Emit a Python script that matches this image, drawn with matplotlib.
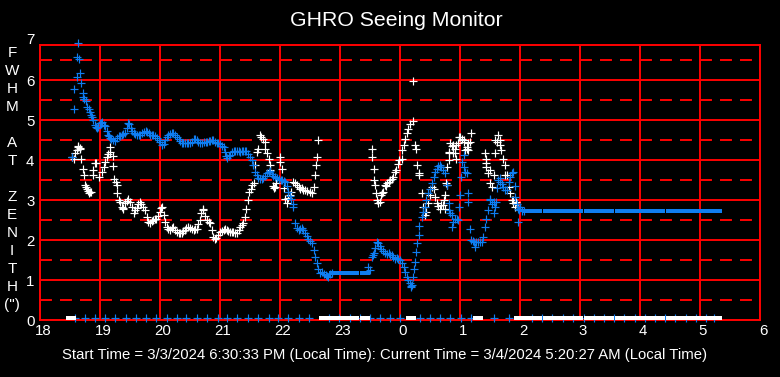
import matplotlib
matplotlib.use("Agg")
import matplotlib.pyplot as plt
from matplotlib.path import Path
from matplotlib.transforms import ScaledTranslation

# Seeing readings, hours after midnight of 3/3 (24 = 0h next day)
blue_t = [18.53, 18.56, 18.57, 18.61, 18.62, 18.64, 18.65, 18.67, 18.69, 18.71, 18.72, 18.74, 18.76, 18.79,
          18.81, 18.83, 18.85, 18.87, 18.89, 18.91, 18.93, 18.95, 18.97, 19.00, 19.02, 19.04, 19.07, 19.09,
          19.11, 19.13, 19.15, 19.17, 19.19, 19.22, 19.25, 19.28, 19.31, 19.34, 19.36, 19.39, 19.42, 19.45,
          19.47, 19.49, 19.51, 19.53, 19.56, 19.59, 19.62, 19.65, 19.67, 19.70, 19.73, 19.76, 19.78, 19.81,
          19.84, 19.87, 19.89, 19.92, 19.95, 19.98, 20.00, 20.03, 20.06, 20.08, 20.11, 20.14, 20.17, 20.20,
          20.22, 20.25, 20.28, 20.31, 20.34, 20.37, 20.39, 20.42, 20.45, 20.47, 20.50, 20.53, 20.56, 20.58,
          20.61, 20.64, 20.67, 20.70, 20.73, 20.76, 20.78, 20.81, 20.84, 20.87, 20.89, 20.92, 20.95, 20.97,
          21.00, 21.03, 21.06, 21.08, 21.10, 21.12, 21.15, 21.17, 21.20, 21.23, 21.25, 21.28, 21.31, 21.33,
          21.36, 21.39, 21.42, 21.44, 21.47, 21.50, 21.53, 21.55, 21.58, 21.61, 21.64, 21.67, 21.70, 21.72,
          21.75, 21.78, 21.81, 21.83, 21.86, 21.89, 21.92, 21.95, 21.98, 22.01, 22.03, 22.06, 22.08, 22.11,
          22.14, 22.17, 22.19, 22.21, 22.22, 22.25, 22.28, 22.31, 22.34, 22.37, 22.39, 22.42, 22.45, 22.47,
          22.50, 22.53, 22.56, 22.58, 22.61, 22.64, 22.67, 22.70, 22.73, 22.76, 22.78, 22.80, 22.83, 22.86,
          23.47, 23.50, 23.53, 23.55, 23.56, 23.58, 23.61, 23.64, 23.66, 23.69, 23.72, 23.75, 23.78, 23.81,
          23.84, 23.86, 23.89, 23.92, 23.95, 23.97, 24.00, 24.03, 24.06, 24.08, 24.11, 24.14, 24.17, 24.18,
          24.19, 24.20, 24.22, 24.24, 24.25, 24.27, 24.29, 24.31, 24.32, 24.36, 24.39, 24.42, 24.44, 24.47,
          24.50, 24.53, 24.56, 24.58, 24.61, 24.64, 24.66, 24.69, 24.72, 24.75, 24.78, 24.81, 24.81, 24.83,
          24.86, 24.86, 24.89, 24.92, 24.95, 24.97, 24.99, 25.00, 25.02, 25.04, 25.06, 25.06, 25.09, 25.11,
          25.14, 25.14, 25.16, 25.19, 25.21, 25.23, 25.25, 25.27, 25.30, 25.33, 25.36, 25.39, 25.42, 25.44,
          25.47, 25.50, 25.50, 25.53, 25.56, 25.56, 25.58, 25.60, 25.62, 25.64, 25.66, 25.67, 25.70, 25.72,
          25.75, 25.78, 25.81, 25.83, 25.86, 25.89, 25.91, 25.92, 25.95, 25.97, 25.97, 25.99, 26.00, 26.03,
          26.07]
blue_v = [4.08, 5.27, 5.77, 6.07, 6.57, 6.94, 6.54, 6.19, 5.94, 5.69, 5.57, 5.52, 5.47, 5.32,
          5.27, 5.20, 5.12, 5.08, 5.00, 4.88, 4.83, 4.81, 4.84, 4.92, 4.94, 4.96, 4.89, 4.85,
          4.72, 4.64, 4.60, 4.56, 4.54, 4.50, 4.49, 4.55, 4.60, 4.60, 4.62, 4.66, 4.68, 4.80,
          4.94, 4.90, 4.80, 4.72, 4.67, 4.65, 4.63, 4.62, 4.62, 4.68, 4.70, 4.72, 4.71, 4.68,
          4.64, 4.62, 4.62, 4.60, 4.55, 4.50, 4.46, 4.37, 4.40, 4.50, 4.58, 4.62, 4.66, 4.68,
          4.68, 4.63, 4.57, 4.54, 4.48, 4.44, 4.42, 4.42, 4.43, 4.42, 4.42, 4.46, 4.52, 4.54,
          4.50, 4.46, 4.42, 4.44, 4.46, 4.45, 4.46, 4.47, 4.49, 4.50, 4.50, 4.46, 4.43, 4.42,
          4.40, 4.36, 4.33, 4.20, 4.10, 4.06, 4.10, 4.13, 4.20, 4.24, 4.23, 4.22, 4.22, 4.20,
          4.22, 4.24, 4.23, 4.23, 4.15, 4.08, 4.00, 3.88, 3.71, 3.64, 3.56, 3.54, 3.53, 3.56,
          3.60, 3.68, 3.71, 3.72, 3.66, 3.60, 3.58, 3.55, 3.52, 3.50, 3.50, 3.47, 3.46, 3.35,
          3.21, 3.10, 3.04, 2.90, 2.83, 2.42, 2.30, 2.25, 2.27, 2.30, 2.25, 2.18, 2.10, 2.04,
          1.98, 1.92, 1.75, 1.58, 1.42, 1.28, 1.17, 1.20, 1.15, 1.12, 1.10, 1.08, 1.15, 1.17,
          1.33, 1.25, 1.58, 1.62, 1.67, 1.80, 1.96, 1.92, 1.85, 1.79, 1.72, 1.67, 1.66, 1.67,
          1.64, 1.62, 1.58, 1.54, 1.55, 1.54, 1.50, 1.42, 1.33, 1.21, 1.08, 1.00, 0.92, 0.85,
          0.83, 0.88, 1.08, 1.29, 1.46, 1.71, 1.92, 2.13, 2.35, 2.58, 2.70, 2.83, 3.00, 3.17,
          3.29, 3.42, 3.58, 3.70, 3.79, 3.85, 3.88, 3.83, 3.75, 3.67, 3.38, 2.92, 2.75, 2.67,
          2.63, 2.33, 2.45, 2.54, 2.52, 2.50, 2.83, 3.13, 3.58, 3.95, 4.13, 3.83, 3.70, 3.67,
          3.17, 2.96, 2.29, 2.00, 1.98, 1.96, 1.83, 1.95, 1.96, 1.96, 1.96, 2.08, 2.33, 2.54,
          2.75, 3.00, 3.04, 2.90, 2.96, 2.67, 2.83, 2.96, 3.30, 3.50, 3.55, 3.46, 3.40, 3.33,
          3.25, 3.25, 3.46, 3.58, 3.67, 3.71, 3.35, 3.08, 2.90, 2.79, 2.46, 2.75, 2.83, 2.72,
          2.72]

white_t = [18.53, 18.57, 18.58, 18.61, 18.63, 18.64, 18.66, 18.67, 18.69, 18.71, 18.73, 18.75, 18.77, 18.78,
           18.80, 18.82, 18.84, 18.85, 18.89, 18.89, 18.92, 18.94, 18.99, 19.03, 19.06, 19.08, 19.11, 19.14,
           19.16, 19.17, 19.21, 19.22, 19.24, 19.26, 19.28, 19.29, 19.31, 19.33, 19.36, 19.38, 19.39, 19.42,
           19.45, 19.47, 19.50, 19.53, 19.56, 19.58, 19.61, 19.64, 19.67, 19.69, 19.72, 19.75, 19.78, 19.80,
           19.83, 19.86, 19.89, 19.92, 19.94, 19.97, 20.00, 20.02, 20.03, 20.06, 20.08, 20.11, 20.14, 20.17,
           20.20, 20.22, 20.25, 20.28, 20.31, 20.33, 20.36, 20.39, 20.42, 20.44, 20.47, 20.50, 20.53, 20.56,
           20.59, 20.61, 20.64, 20.67, 20.69, 20.71, 20.72, 20.75, 20.78, 20.81, 20.83, 20.86, 20.89, 20.92,
           20.94, 20.97, 21.00, 21.03, 21.06, 21.09, 21.11, 21.14, 21.17, 21.20, 21.22, 21.25, 21.28, 21.31,
           21.33, 21.36, 21.39, 21.42, 21.44, 21.47, 21.49, 21.51, 21.53, 21.56, 21.58, 21.61, 21.64, 21.67,
           21.69, 21.72, 21.75, 21.75, 21.78, 21.81, 21.83, 21.84, 21.88, 21.90, 21.92, 21.94, 22.00, 22.00,
           22.03, 22.06, 22.08, 22.11, 22.14, 22.17, 22.19, 22.22, 22.25, 22.28, 22.31, 22.33, 22.36, 22.39,
           22.42, 22.45, 22.50, 22.53, 22.56, 22.58, 22.60, 22.62, 22.64,
           23.53, 23.54, 23.56, 23.57, 23.58, 23.60, 23.62, 23.64, 23.66, 23.68, 23.70, 23.72, 23.75, 23.77,
           23.79, 23.81, 23.83, 23.86, 23.89, 23.92, 23.94, 23.97, 23.99, 24.03, 24.04, 24.06, 24.08, 24.11,
           24.13, 24.16, 24.21, 24.22, 24.25, 24.27, 24.29, 24.31, 24.32, 24.36, 24.39, 24.42, 24.44, 24.47,
           24.50, 24.53, 24.56, 24.58, 24.61, 24.64, 24.67, 24.69, 24.72, 24.73, 24.75, 24.75, 24.77, 24.78,
           24.79, 24.81, 24.81, 24.82, 24.83, 24.86, 24.89, 24.89, 24.92, 24.92, 24.94, 24.94, 24.97, 24.99,
           25.00, 25.03, 25.06, 25.06, 25.08, 25.11, 25.11, 25.14, 25.14, 25.17, 25.19, 25.42, 25.43, 25.44,
           25.44, 25.47, 25.50, 25.50, 25.53, 25.56, 25.58, 25.58, 25.61, 25.64, 25.67, 25.67, 25.69, 25.72,
           25.75, 25.75, 25.78, 25.81, 25.83, 25.86, 25.88, 25.89, 25.92, 25.94, 25.97]
white_v = [4.08, 4.03, 4.17, 4.25, 4.33, 4.35, 4.30, 4.29, 4.04, 3.78, 3.64, 3.38, 3.33, 3.29,
           3.22, 3.17, 3.20, 3.21, 3.75, 3.64, 3.94, 3.92, 3.58, 3.71, 3.83, 3.96, 4.08, 4.15,
           4.21, 4.33, 4.11, 3.86, 3.54, 3.45, 3.38, 3.17, 3.00, 2.95, 2.83, 2.80, 2.79, 2.92,
           2.98, 3.04, 2.96, 2.83, 2.67, 2.75, 2.80, 2.90, 2.96, 2.90, 2.83, 2.75, 2.58, 2.45,
           2.44, 2.47, 2.50, 2.52, 2.54, 2.60, 2.70, 2.80, 2.83, 2.63, 2.45, 2.33, 2.29, 2.25,
           2.30, 2.33, 2.25, 2.20, 2.18, 2.17, 2.18, 2.22, 2.26, 2.30, 2.33, 2.31, 2.27, 2.25,
           2.27, 2.29, 2.40, 2.50, 2.67, 2.79, 2.75, 2.60, 2.50, 2.45, 2.42, 2.25, 2.08, 2.04,
           2.06, 2.12, 2.21, 2.22, 2.25, 2.28, 2.25, 2.22, 2.20, 2.20, 2.21, 2.19, 2.17, 2.25,
           2.33, 2.38, 2.42, 2.58, 2.79, 3.00, 3.20, 3.29, 3.38, 3.42, 3.88, 4.20, 4.29, 4.62,
           4.58, 4.54, 4.46, 4.29, 4.17, 4.04, 3.88, 3.75, 3.35, 3.30, 3.33, 3.42, 4.08, 3.96,
           3.77, 3.30, 3.04, 2.92, 3.05, 3.13, 3.21, 3.46, 3.42, 3.38, 3.33, 3.29, 3.30, 3.26,
           3.25, 3.22, 3.21, 3.17, 3.33, 3.63, 3.88, 4.07, 4.50,
           4.27, 4.08, 3.79, 3.50, 3.38, 3.17, 3.00, 2.92, 2.95, 3.13, 3.18, 3.21, 3.38, 3.35,
           3.42, 3.45, 3.50, 3.52, 3.58, 3.71, 3.75, 3.90, 4.00, 4.02, 4.25, 4.38, 4.54, 4.68,
           4.79, 4.90, 5.98, 4.98, 4.38, 4.29, 3.88, 3.67, 3.63, 3.17, 2.83, 2.63, 2.71, 2.92,
           3.13, 3.33, 3.29, 3.08, 2.92, 2.85, 2.79, 2.88, 2.88, 3.00, 3.13, 2.79, 3.42, 3.83,
           3.38, 4.00, 4.21, 4.18, 4.42, 4.35, 4.38, 4.17, 4.29, 4.17, 4.38, 4.04, 4.42, 4.58,
           4.58, 4.54, 4.46, 4.50, 4.25, 4.29, 4.33, 4.25, 4.42, 4.46, 4.67, 4.18, 3.93, 3.83,
           4.04, 3.67, 3.42, 3.75, 3.33, 3.63, 4.17, 4.50, 4.46, 4.62, 4.50, 4.38, 4.25, 4.04,
           3.88, 3.63, 3.63, 3.33, 3.17, 3.00, 3.00, 2.92, 2.82, 2.96, 2.83]

# Runs where the blue reading stayed constant (one block per 10 min cycle)
flat_t = [22.90, 23.07, 23.24, 23.41,
          26.12, 26.29, 26.46, 26.63, 26.80, 26.97, 27.15, 27.32, 27.48, 27.66,
          27.83, 28.00, 28.17, 28.34, 28.51, 28.68, 28.85, 29.01, 29.18, 29.29]
flat_v = [1.17, 1.17, 1.17, 1.17,
          2.72, 2.72, 2.72, 2.72, 2.72, 2.72, 2.72, 2.72, 2.72, 2.72,
          2.72, 2.72, 2.72, 2.72, 2.72, 2.72, 2.72, 2.72, 2.72, 2.72]

# Zero readings: white blocks and single blue failures
white_zero_t = [18.52, 22.73, 22.90, 23.07, 23.24, 23.41, 24.18, 25.30, 25.99,
                26.12, 26.29, 26.46, 26.63, 26.80, 26.97, 27.15, 27.32, 27.48, 27.66,
                27.83, 28.00, 28.17, 28.34, 28.51, 28.68, 28.85, 29.01, 29.18, 29.29]
blue_zero_t = [18.58, 18.75, 18.92, 19.08, 19.25, 19.43, 19.60, 19.77, 19.94, 20.11, 20.28, 20.44,
               20.62, 20.79, 20.96, 21.12, 21.29, 21.46, 21.63, 21.81, 21.97, 22.14, 22.31, 22.49,
               22.82, 22.99, 23.16, 23.33, 23.50, 23.67, 23.83, 24.00, 24.33, 24.50, 24.67, 24.84,
               25.01, 25.18, 25.57, 25.82, 26.20, 26.37, 26.54, 26.71, 26.88, 27.06, 27.23, 27.40,
               27.57, 27.74, 27.91, 28.08, 28.25, 28.42, 28.59, 28.76, 28.93, 29.10, 29.24]
zero_level = 0.06

hour_ticks = [18, 19, 20, 21, 22, 23, 24, 25, 26, 27, 28, 29, 30]
hour_labels = ['18', '19', '20', '21', '22', '23', '0', '1', '2', '3', '4', '5', '6']
ylabel_letters = ['F', 'W', 'H', 'M', '', 'A', 'T', '', 'Z', 'E', 'N', 'I', 'T', 'H', '(")']

BLUE = '#0f7df0'
RED = '#ff0000'

plt.rcParams['font.family'] = ['Liberation Sans', 'DejaVu Sans']
plt.rcParams['lines.scale_dashes'] = False

fig = plt.figure(figsize=(7.8, 3.77), dpi=100, facecolor='black')
ax = fig.add_axes([40 / 780, 56.7 / 377, 720 / 780, 275.3 / 377])
ax.set_facecolor('black')

block = Path([(-1, -0.5), (1, -0.5), (1, 0.5), (-1, 0.5), (-1, -0.5)], closed=True)
plus = dict(linestyle='none', marker='+', markersize=5.2, markeredgewidth=0.85, clip_on=False)

ax.plot(blue_zero_t, [zero_level] * len(blue_zero_t), color=BLUE, zorder=3, **plus)
ax.plot(white_t, white_v, color='white', zorder=3, **plus)
ax.plot(blue_t, blue_v, color=BLUE, zorder=4, **plus)
ax.plot(flat_t, flat_v, linestyle='none', marker=block, markersize=6.8, color=BLUE,
        markeredgewidth=0, zorder=4)
ax.plot(white_zero_t, [zero_level] * len(white_zero_t), linestyle='none', marker=block,
        markersize=6.8, color='white', markeredgewidth=0, zorder=4, clip_on=False)

ax.set_xlim(18, 30)
ax.set_ylim(0, 6.88)
ax.set_xticks(hour_ticks)
ax.set_xticklabels(hour_labels)
ax.set_yticks(range(0, 7))
ax.set_yticks([0.5, 1.5, 2.5, 3.5, 4.5, 5.5, 6.5], minor=True)
ax.tick_params(which='both', length=0, colors='white', labelsize=10.8)
ax.tick_params(axis='x', pad=3)
ax.tick_params(axis='y', pad=4)
for lab in ax.get_xticklabels():
    lab.set_transform(lab.get_transform() + ScaledTranslation(3 / 100, 0, fig.dpi_scale_trans))
# the 7 label sits above the frame
ax.text(-5 / 720, 7, '7', transform=ax.get_yaxis_transform(), ha='right', va='center',
        color='white', fontsize=10.8, clip_on=False)

ax.set_axisbelow(True)
ax.grid(which='major', color=RED, linewidth=1.4)
ax.grid(which='minor', axis='y', color=RED, linewidth=1.4, linestyle=(0, (8.6, 5.8)))
ax.grid(which='minor', axis='x', visible=False)
for sp in ax.spines.values():
    sp.set_color(RED)
    sp.set_linewidth(1.4)

# vertical axis title, one letter per line
for i, ch in enumerate(ylabel_letters):
    fig.text(12 / 780, 1 - (53 + 18 * i) / 377, ch, color='white', fontsize=11,
             ha='center', va='center')

fig.text(396 / 780, 1 - 20 / 377, 'GHRO Seeing Monitor', color='white', fontsize=15.3,
         ha='center', va='center')
fig.text(385 / 780, 1 - 355 / 377,
         'Start Time = 3/3/2024 6:30:33 PM (Local Time): Current Time = 3/4/2024 5:20:27 AM (Local Time)',
         color='white', fontsize=10.7, ha='center', va='center')

fig.savefig('out.png', dpi=100, facecolor='black')
